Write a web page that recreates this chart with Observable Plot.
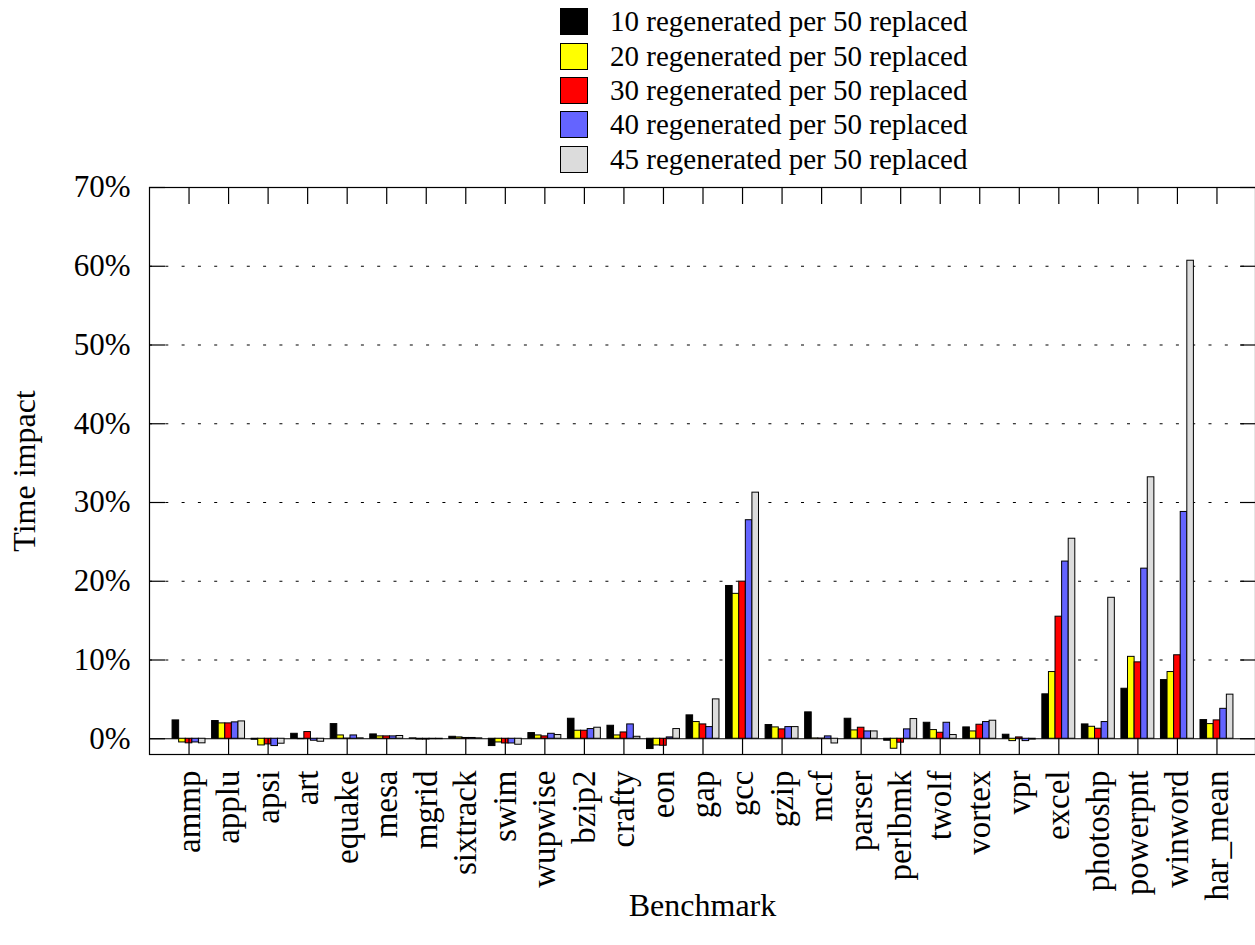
<!DOCTYPE html>
<html>
<head>
<meta charset="utf-8">
<script src="https://cdn.jsdelivr.net/npm/d3@7"></script>
<script src="https://cdn.jsdelivr.net/npm/@observablehq/plot@0.6"></script>
<style>
  html, body { margin: 0; padding: 0; background: #fff; }
  #wrap { position: relative; width: 1255px; height: 945px; overflow: hidden; background: #fff; }
  #chart { position: absolute; left: 0; top: 0; }
  #legend { position: absolute; left: 560px; top: 4.5px; font-family: 'Liberation Serif', serif; font-size: 29px; color: #000; }
  .row { display: flex; align-items: center; height: 34.4px; }
  .sw { width: 26px; height: 25px; border: 1px solid #000; flex: none; }
  .lbl { margin-left: 22px; white-space: nowrap; font-family: 'Liberation Serif', serif; }
</style>
</head>
<body>
<div id="wrap">
  <div id="chart"></div>
  <div id="legend"></div>
</div>
<script>
const categories = ["ammp","applu","apsi","art","equake","mesa","mgrid","sixtrack","swim","wupwise",
  "bzip2","crafty","eon","gap","gcc","gzip","mcf","parser","perlbmk","twolf",
  "vortex","vpr","excel","photoshp","powerpnt","winword","har_mean"];

const seriesNames = [
  "10 regenerated per 50 replaced",
  "20 regenerated per 50 replaced",
  "30 regenerated per 50 replaced",
  "40 regenerated per 50 replaced",
  "45 regenerated per 50 replaced"
];
const seriesColors = ["#000000", "#ffff00", "#ff0000", "#6464ff", "#dcdcdc"];

// values in percent
const s10 = [2.33, 2.25, -0.12, 0.63, 1.86, 0.55, 0.05, 0.25, -0.93, 0.72,
  2.54, 1.65, -1.31, 2.97, 19.4, 1.74, 3.35, 2.54, -0.25, 2.03,
  1.44, 0.51, 5.64, 1.82, 6.35, 7.45, 2.37];
const s20 = [-0.47, 1.95, -0.85, -0.05, 0.42, 0.3, -0.1, 0.17, -0.47, 0.42,
  1.02, 0.42, -0.85, 2.12, 18.4, 1.44, 0.04, 1.06, -1.27, 1.1,
  0.93, -0.3, 8.47, 1.52, 10.4, 8.47, 1.86];
const s30 = [-0.58, 1.95, -0.72, 0.85, 0.03, 0.3, -0.1, 0.1, -0.6, 0.3,
  1.02, 0.8, -0.89, 1.82, 19.95, 1.19, 0.03, 1.4, -0.5, 0.76,
  1.78, 0.17, 15.5, 1.27, 9.7, 10.6, 2.33];
const s40 = [-0.47, 2.08, -0.93, -0.25, 0.42, 0.3, -0.05, 0.1, -0.6, 0.63,
  1.23, 1.82, 0.17, 1.48, 27.75, 1.48, 0.3, 0.93, 1.19, 2.03,
  2.12, -0.3, 22.5, 2.12, 21.6, 28.8, 3.8];
const s45 = [-0.58, 2.2, -0.63, -0.38, 0.05, 0.35, -0.05, 0.05, -0.76, 0.47,
  1.4, 0.25, 1.23, 5.0, 31.25, 1.48, -0.6, 0.93, 2.5, 0.47,
  2.29, -0.1, 25.4, 17.9, 33.2, 60.7, 5.6];

const yTicks = [0, 10, 20, 30, 40, 50, 60, 70];
const gridTicks = [10, 20, 30, 40, 50, 60];

const seriesValues = [s10, s20, s30, s40, s45];
const nSeries = seriesValues.length;
const slot = 1 / (nSeries + 1);

const rows = categories.flatMap((c, i) =>
  seriesValues.map((vals, s) => ({i, s, category: c, series: seriesNames[s], value: vals[i]}))
);
const catIdx = categories.map((c, i) => i);

const font = "Liberation Serif";

const chart = Plot.plot({
  width: 1255,
  height: 945,
  marginTop: 187,
  marginBottom: 191,
  marginLeft: 149,
  marginRight: 0,
  style: {fontFamily: font, fontSize: "31px", color: "#000", background: "#fff", overflow: "hidden"},
  x: {type: "linear", domain: [-1, categories.length], range: [149, 1256]},
  y: {domain: [-2, 70]},
  color: {domain: seriesNames, range: seriesColors},
  marks: [
    Plot.gridY(gridTicks, {stroke: "#000", strokeOpacity: 1, strokeWidth: 1.2, strokeDasharray: "3,13.3"}),
    Plot.ruleY([0], {stroke: "#000", strokeWidth: 1.2}),
    Plot.rect(rows, {
      x1: d => d.i + (d.s - nSeries / 2) * slot,
      x2: d => d.i + (d.s - nSeries / 2 + 1) * slot,
      y1: 0,
      y2: "value",
      fill: "series",
      stroke: "#000",
      strokeWidth: 1
    }),
    Plot.frame({stroke: "#000", strokeWidth: 1.2}),
    Plot.axisY(yTicks, {anchor: "left", tickSize: 0, tickPadding: 19, tickFormat: d => d + "%", fontSize: 31, label: null}),
    Plot.axisY(yTicks, {anchor: "left", tickSize: -16, tickFormat: () => "", label: null, strokeWidth: 1.2}),
    Plot.axisY(yTicks, {anchor: "right", tickSize: -16, tickFormat: () => "", label: null, strokeWidth: 1.2}),
    Plot.axisX(catIdx, {anchor: "bottom", tickSize: 0, tickPadding: 16, tickRotate: -90, tickFormat: i => categories[i], fontSize: 33, label: null}),
    Plot.axisX(catIdx, {anchor: "bottom", tickSize: -16, tickFormat: () => "", label: null, strokeWidth: 1.2}),
    Plot.axisX(catIdx, {anchor: "top", tickSize: -16, tickFormat: () => "", label: null, strokeWidth: 1.2}),
    Plot.text(["Benchmark"], {frameAnchor: "bottom", dy: 151, lineAnchor: "middle", textAnchor: "middle", text: d => d, fontSize: 32}),
    Plot.text(["Time impact"], {frameAnchor: "left", dx: -125, rotate: -90, lineAnchor: "middle", textAnchor: "middle", text: d => d, fontSize: 32})
  ]
});
document.getElementById("chart").appendChild(chart);

const legend = document.getElementById("legend");
seriesNames.forEach((name, s) => {
  const row = document.createElement("div");
  row.className = "row";
  const sw = document.createElement("div");
  sw.className = "sw";
  sw.style.background = seriesColors[s];
  const lbl = document.createElement("span");
  lbl.className = "lbl";
  lbl.textContent = name;
  row.appendChild(sw);
  row.appendChild(lbl);
  legend.appendChild(row);
});
</script>
</body>
</html>
